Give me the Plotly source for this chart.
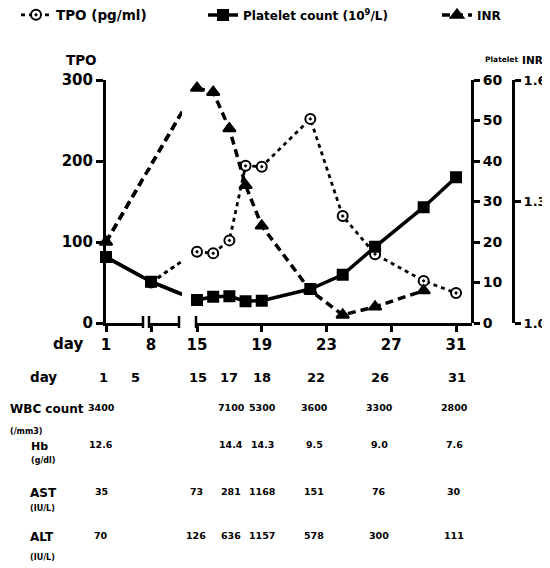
import plotly.graph_objects as go

# ---------------- data ----------------
tpo_days = [8, 15, 16, 17, 18, 19, 22, 24, 26, 29, 31]
tpo_values = [50, 88, 86, 102, 194, 193, 252, 132, 85, 52, 37]

platelet_days = [1, 8, 15, 16, 17, 18, 19, 22, 24, 26, 29, 31]
platelet_values = [16.3, 10.2, 5.7, 6.5, 6.6, 5.4, 5.5, 8.4, 11.9, 18.8, 28.6, 36.0]

inr_days = [1, 15, 16, 17, 18, 19, 22, 24, 26, 29]
inr_values = [1.20, 1.58, 1.57, 1.48, 1.34, 1.24, 1.08, 1.02, 1.04, 1.08]

seg1_ticks = [1]
seg2_ticks = [8]
seg3_ticks = [15, 19, 23, 27, 31]
tpo_ticks = [0, 100, 200, 300]
platelet_ticks = [0, 10, 20, 30, 40, 50, 60]
inr_ticks = [1.0, 1.3, 1.6]
inr_tick_text = ["1.0", "1.3", "1.6"]

table_days = ["1", "5", "15", "17", "18", "22", "26", "31"]
wbc_row = ["3400", "", "", "7100", "5300", "3600", "3300", "2800"]
hb_row = ["12.6", "", "", "14.4", "14.3", "9.5", "9.0", "7.6"]
ast_row = ["35", "", "73", "281", "1168", "151", "76", "30"]
alt_row = ["70", "", "126", "636", "1157", "578", "300", "111"]

# ---------------- layout geometry ----------------
# The page body has an 8px margin, so the figure is drawn 8px right/down.
OFF = 8
W, H = 550 - OFF, 568 - OFF
# plot area in page pixels: x 106..513, y 80..323
L = 106 - OFF
T = 80 - OFF
R = W - (513 - OFF)
B = H - (323 - OFF)
PW = W - L - R
PH = H - T - B


def px2x(px):
    """page pixel x -> paper fraction"""
    return (px - OFF - L) / PW


def py2y(py):
    """page pixel y -> paper fraction"""
    return (H - B - (py - OFF)) / PH


FONT = "DejaVu Sans"
DAY_PX_LEFT = 45 / 7.0  # pixels per day on the left (compressed) part

segs = [
    dict(ax="x", domain=[0.0, px2x(143)], range=[1.0, 1 + 37 / DAY_PX_LEFT], ticks=seg1_ticks),
    dict(ax="x2", domain=[px2x(149), px2x(179)],
         range=[1 + 43 / DAY_PX_LEFT, 1 + 73 / DAY_PX_LEFT], ticks=seg2_ticks),
    dict(ax="x3", domain=[px2x(196), px2x(472)], range=[14.938, 31.986], ticks=seg3_ticks),
]
# hidden axis with the same scale as the left segments: the lines run
# continuously across the first (short) break, up to the second break
left_area = dict(ax="x4", domain=[0.0, px2x(182)], range=[1.0, 1 + 76 / DAY_PX_LEFT])

series = [
    dict(name="TPO (pg/ml)", days=tpo_days, vals=tpo_values, yaxis="y",
         dash="4px,4px", width=2.8, symbol="circle-dot", fill="white", size=10,
         legend="legend"),
    dict(name="Platelet count (10<sup>9</sup>/L)", days=platelet_days, vals=platelet_values,
         yaxis="y2", dash="solid", width=3.5, symbol="square", fill="black", size=10,
         legend="legend2"),
    dict(name="INR", days=inr_days, vals=inr_values, yaxis="y3",
         dash="8px,5px", width=3.5, symbol="triangle-up", fill="black", size=11,
         legend="legend3"),
]

fig = go.Figure()

for s in series:
    marker = dict(symbol=s["symbol"], size=s["size"], color=s["fill"],
                  line=dict(color="black", width=2))
    line = dict(color="black", width=s["width"], dash=s["dash"])
    # left continuous line
    fig.add_trace(go.Scatter(
        x=s["days"], y=s["vals"], xaxis=left_area["ax"], yaxis=s["yaxis"], mode="lines",
        line=line, showlegend=False, hoverinfo="skip"))
    for i, seg in enumerate(segs):
        lo, hi = seg["range"]
        xin = [d for d in s["days"] if lo <= d <= hi]
        yin = [v for d, v in zip(s["days"], s["vals"]) if lo <= d <= hi]
        if i == 2:
            fig.add_trace(go.Scatter(
                x=xin, y=yin, xaxis=seg["ax"], yaxis=s["yaxis"], mode="lines+markers",
                line=line, marker=marker, name=s["name"], legend=s["legend"],
                showlegend=True, cliponaxis=False, hoverinfo="skip"))
        else:
            # same pixel path as the continuous line, so dashes coincide
            fig.add_trace(go.Scatter(
                x=s["days"], y=s["vals"], xaxis=seg["ax"], yaxis=s["yaxis"], mode="lines",
                line=line, showlegend=False, hoverinfo="skip"))
            if xin:
                fig.add_trace(go.Scatter(
                    x=xin, y=yin, xaxis=seg["ax"], yaxis=s["yaxis"], mode="markers",
                    marker=marker, showlegend=False, cliponaxis=False, hoverinfo="skip"))

axis_common = dict(showgrid=False, zeroline=False, showline=True, linecolor="black",
                   linewidth=3, ticks="outside", tickcolor="black", tickwidth=2.5,
                   fixedrange=True, automargin=False)

layout = dict(
    width=W, height=H,
    margin=dict(l=L, r=R, t=T, b=B, pad=0, autoexpand=False),
    paper_bgcolor="white", plot_bgcolor="rgba(0,0,0,0)",
    font=dict(family=FONT, size=13, color="black", weight="bold"),
    yaxis=dict(axis_common, range=[0, 300], tickvals=tpo_ticks, anchor="x",
               ticklen=7, tickfont=dict(size=15, family=FONT, weight="bold")),
    yaxis2=dict(axis_common, range=[0, 60], tickvals=platelet_ticks, overlaying="y",
                side="right", anchor="free", position=px2x(472), ticklen=6,
                tickfont=dict(size=14, family=FONT, weight="bold")),
    yaxis3=dict(axis_common, range=[1.0, 1.6], tickvals=inr_ticks, ticktext=inr_tick_text,
                overlaying="y", side="right", anchor="free", position=1.0, ticklen=6,
                tickfont=dict(size=13, family=FONT, weight="bold")),
    xaxis4=dict(domain=left_area["domain"], range=left_area["range"], anchor="y",
                visible=False, fixedrange=True),
    showlegend=True,
)

for seg in segs:
    key = "xaxis" if seg["ax"] == "x" else "xaxis" + seg["ax"][1:]
    layout[key] = dict(axis_common, domain=seg["domain"], range=seg["range"],
                       tickvals=seg["ticks"], anchor="y", ticklen=6,
                       tickfont=dict(size=15, family=FONT, weight="bold"))

legend_common = dict(orientation="h", yanchor="middle", xanchor="left",
                     bgcolor="rgba(0,0,0,0)", itemwidth=30)
layout["legend"] = dict(legend_common, x=px2x(16), y=py2y(15),
                        font=dict(size=13.5, family=FONT, weight="bold"))
layout["legend2"] = dict(legend_common, x=px2x(203), y=py2y(15),
                         font=dict(size=12, family=FONT, weight="bold"))
layout["legend3"] = dict(legend_common, x=px2x(437), y=py2y(15),
                         font=dict(size=12, family=FONT, weight="bold"))

fig.update_layout(layout)

# break markers on the segmented day axis
shapes = []
for ref, xd in [("x domain", 1), ("x2 domain", 0), ("x2 domain", 1), ("x3 domain", 0)]:
    shapes.append(dict(type="line", xref=ref, yref="paper", x0=xd, x1=xd,
                       y0=py2y(328), y1=py2y(316), line=dict(color="black", width=2.5)))
fig.update_layout(shapes=shapes)


def txt(text, px, py, size, anchor="center"):
    fig.add_annotation(text=text, x=px2x(px), y=py2y(py), xref="paper", yref="paper",
                       showarrow=False, xanchor=anchor, yanchor="middle",
                       font=dict(size=size, family=FONT, color="black", weight="bold"))


# axis titles
txt("TPO", 81, 60, 13.5)
txt("Platelet", 501, 59, 7.5)
txt("INR", 532, 60, 10.5)
txt("day", 68, 344, 15)

# table below the chart
head_cols = [103, 135, 198, 229, 262, 316, 380, 457]
val_cols = [101, 135, 196, 231, 262, 314, 379, 454]

txt("day", 28, 377, 13.5, "left")
for label, c in zip(table_days, head_cols):
    txt(label, c, 377, 13)

rows = [
    ("WBC count", "(/mm3)", wbc_row, 8, 409, 431, 12),
    ("Hb", "(g/dl)", hb_row, 29, 446, 461, 11),
    ("AST", "(IU/L)", ast_row, 28, 493, 508, 12),
    ("ALT", "(IU/L)", alt_row, 28, 537, 557, 12),
]
for label, unit, vals, lx, ry, uy, ls in rows:
    txt(label, lx, ry, ls, "left")
    txt(unit, lx, uy, 8, "left")
    for v, c in zip(vals, val_cols):
        if v:
            txt(v, c, ry - 2, 9.5)

fig.write_html("out.html")
